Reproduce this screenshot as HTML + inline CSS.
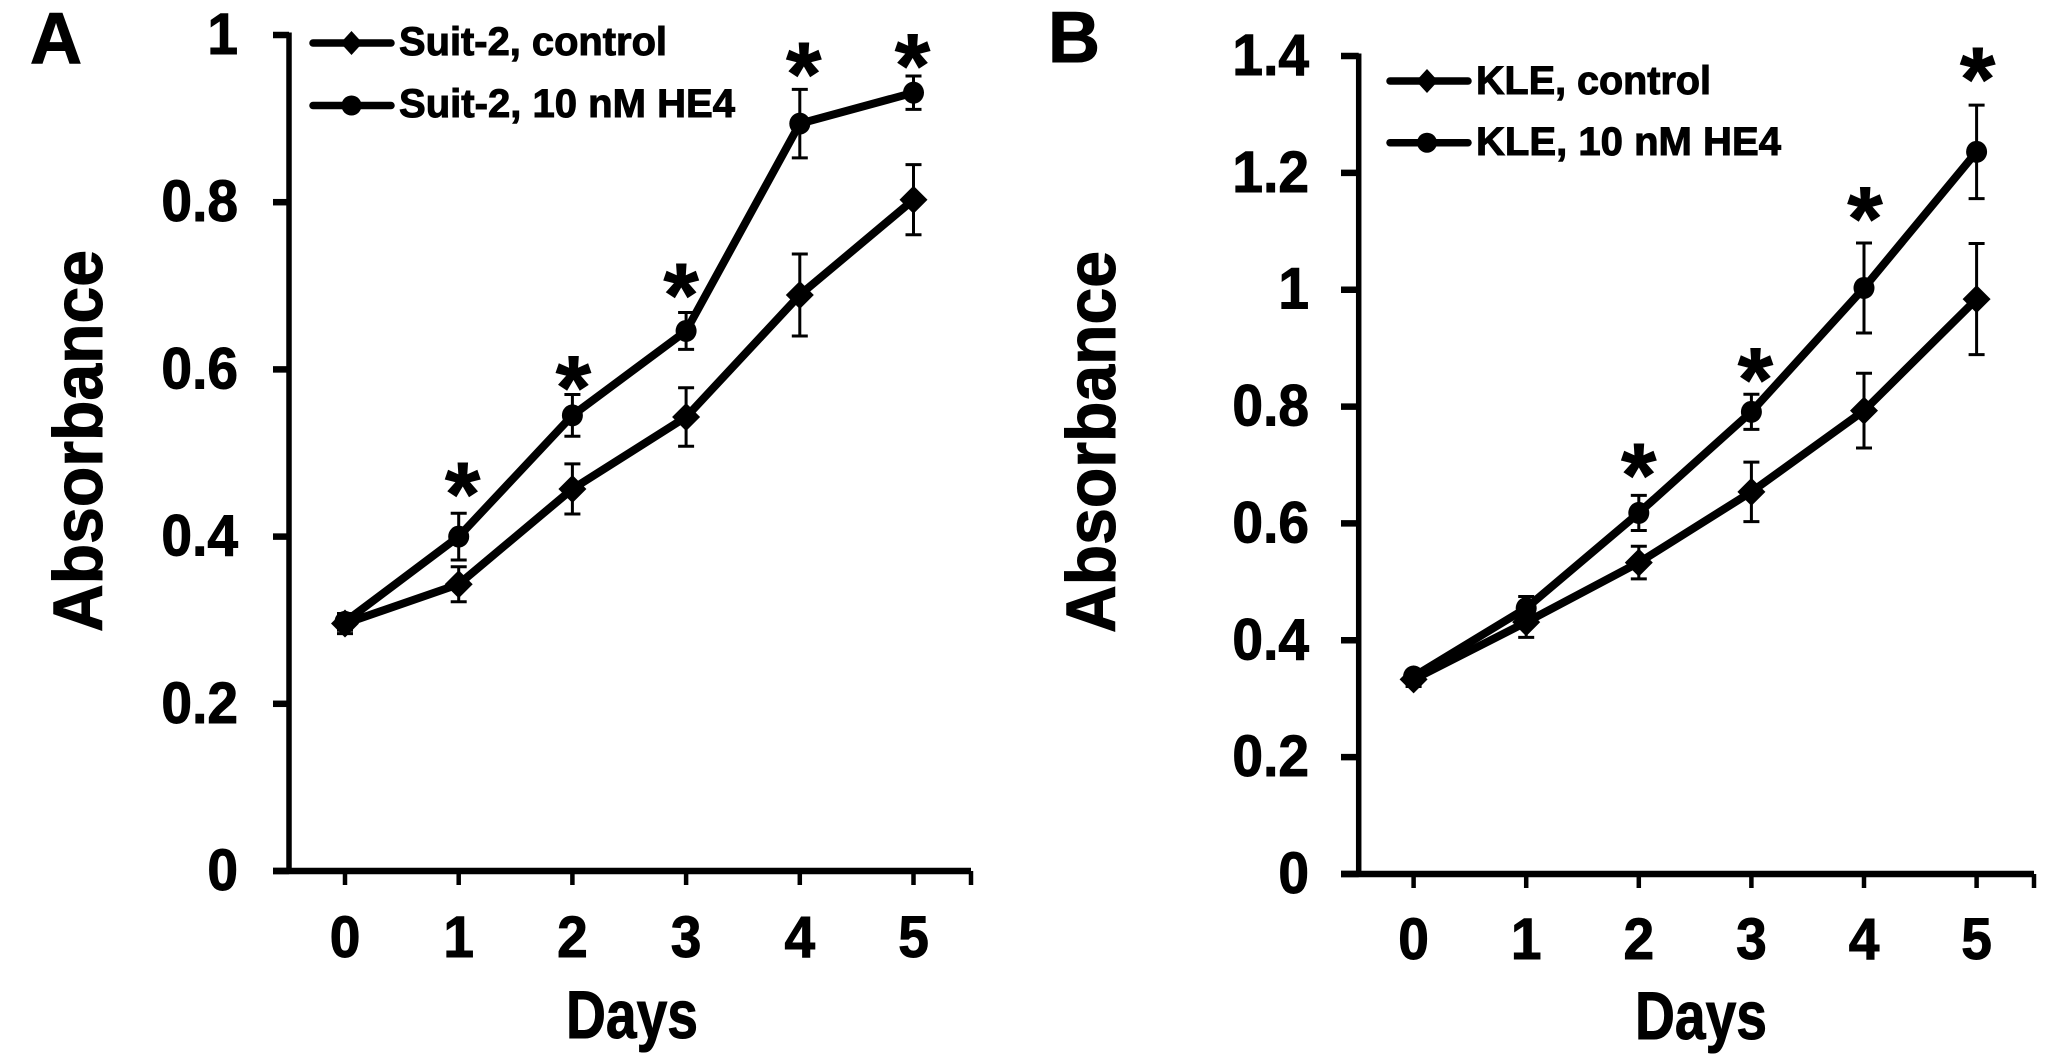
<!DOCTYPE html>
<html lang="en">
<head>
<meta charset="utf-8">
<title>Absorbance over days: Suit-2 and KLE</title>
<style>
html,body{margin:0;padding:0;background:#fff;width:2067px;height:1063px;overflow:hidden}
svg{display:block;font-family:"Liberation Sans",Arial,sans-serif;font-weight:700;fill:#000}
text{fill:#000;stroke:#000;stroke-width:1}
</style>
</head>
<body>
<svg id="figure" xmlns="http://www.w3.org/2000/svg" width="2067" height="1063" viewBox="0 0 2067 1063">
  <rect x="0" y="0" width="2067" height="1063" fill="#fff"/>

  <g id="panel-a">
    <text x="30" y="63" font-size="72">A</text>
    <text transform="translate(102,632) rotate(-90)" font-size="70" textLength="382" lengthAdjust="spacingAndGlyphs">Absorbance</text>
    <text x="566" y="1038" font-size="68" textLength="132" lengthAdjust="spacingAndGlyphs">Days</text>
    <text x="399" y="55" font-size="40" textLength="268" lengthAdjust="spacingAndGlyphs">Suit-2, control</text>
    <text x="399" y="117" font-size="40" textLength="336" lengthAdjust="spacingAndGlyphs">Suit-2, 10 nM HE4</text>
  </g>

  <g id="panel-b">
    <text x="1048" y="62" font-size="72">B</text>
    <text transform="translate(1115,633) rotate(-90)" font-size="70" textLength="382" lengthAdjust="spacingAndGlyphs">Absorbance</text>
    <text x="1635" y="1039" font-size="68" textLength="132" lengthAdjust="spacingAndGlyphs">Days</text>
    <text x="1476" y="94" font-size="40" textLength="235" lengthAdjust="spacingAndGlyphs">KLE, control</text>
    <text x="1476" y="155" font-size="40" textLength="305" lengthAdjust="spacingAndGlyphs">KLE, 10 nM HE4</text>
  </g>
</svg>

<script>
// Shared category labels
const dayLabels = ['0', '1', '2', '3', '4', '5'];

// Panel A data
const suitControl = [0.296, 0.343, 0.457, 0.543, 0.689, 0.803];
const suitControlErr = [0.012, 0.021, 0.030, 0.035, 0.049, 0.042];
const suitHe4 = [0.298, 0.400, 0.545, 0.646, 0.894, 0.931];
const suitHe4Err = [0.010, 0.028, 0.025, 0.022, 0.041, 0.020];
const suitTickValues = [0, 0.2, 0.4, 0.6, 0.8, 1];
const suitTickLabels = ['0', '0.2', '0.4', '0.6', '0.8', '1'];
const suitStarDays = [1, 2, 3, 4, 5];
const suitStarLevels = [0.468, 0.595, 0.706, 0.970, 0.980];

// Panel B data
const kleControl = [0.333, 0.431, 0.533, 0.654, 0.793, 0.984];
const kleControlErr = [0.012, 0.026, 0.028, 0.051, 0.064, 0.095];
const kleHe4 = [0.338, 0.455, 0.618, 0.791, 1.003, 1.236];
const kleHe4Err = [0.010, 0.020, 0.030, 0.030, 0.077, 0.080];
const kleTickValues = [0, 0.2, 0.4, 0.6, 0.8, 1, 1.2, 1.4];
const kleTickLabels = ['0', '0.2', '0.4', '0.6', '0.8', '1', '1.2', '1.4'];
const kleStarDays = [2, 3, 4, 5];
const kleStarLevels = [0.707, 0.870, 1.146, 1.385];

const NS = 'http://www.w3.org/2000/svg';

function make(parent, tag, attrs, txt) {
  const el = document.createElementNS(NS, tag);
  for (const k in attrs) el.setAttribute(k, attrs[k]);
  if (txt !== undefined) el.textContent = txt;
  parent.appendChild(el);
  return el;
}

function drawMarker(parent, kind, cx, cy) {
  if (kind === 'diamond') {
    return make(parent, 'polygon', {
      points: (cx - 14) + ',' + cy + ' ' + cx + ',' + (cy - 14) + ' ' + (cx + 14) + ',' + cy + ' ' + cx + ',' + (cy + 14),
      fill: '#000'
    });
  }
  return make(parent, 'ellipse', { cx: cx, cy: cy, rx: 10.5, ry: 11, fill: '#000' });
}

function drawPanel(cfg) {
  const root = document.getElementById(cfg.id);
  const xPos = function (i) { return cfg.x0 + i * cfg.xStep; };
  const yPos = function (v) { return cfg.yZero - (v / cfg.yMax) * (cfg.yZero - cfg.yTop); };
  const S = cfg.suffix;

  // Axes
  const yAxis = make(root, 'line', { x1: cfg.axisX, x2: cfg.axisX, y1: yPos(cfg.yMax) - 2.5, y2: cfg.yZero, stroke: '#000', 'stroke-width': 5.5 });
  
  
  const xAxis = make(root, 'line', { x1: cfg.tickLeft, x2: cfg.axisEnd, y1: cfg.yZero, y2: cfg.yZero, stroke: '#000', 'stroke-width': 6.5 });
  
  

  // Y ticks and labels
  cfg.tickValues.forEach(function (v, i) {
    const t = make(root, 'line', { x1: cfg.tickLeft, x2: cfg.axisX, y1: yPos(v), y2: yPos(v), stroke: '#000', 'stroke-width': 6.5 });
    
    
    const l = make(root, 'text', {
      transform: 'translate(' + cfg.yLabelX + ',' + (yPos(v) + 19) + ') scale(0.95,1)',
      'text-anchor': 'end',
      'font-size': 58
    }, cfg.tickLabels[i]);
    
    
  });

  // X ticks and labels
  dayLabels.forEach(function (d, i) {
    const t = make(root, 'line', { x1: xPos(i), x2: xPos(i), y1: cfg.yZero, y2: cfg.yZero + 14, stroke: '#000', 'stroke-width': 4.5 });
    
    
    const l = make(root, 'text', {
      transform: 'translate(' + xPos(i) + ',' + cfg.xLabelY + ') scale(0.95,1)',
      'text-anchor': 'middle',
      'font-size': 58
    }, d);
    
    
  });
  const endTick = make(root, 'line', { x1: cfg.axisEnd, x2: cfg.axisEnd, y1: cfg.yZero, y2: cfg.yZero + 14, stroke: '#000', 'stroke-width': 4.5 });
  
  

  // Series
  cfg.series.forEach(function (s) {
    const g = make(root, 'g', {});
    
    

    s.values.forEach(function (v, i) {
      const cx = xPos(i), top = yPos(v + s.err[i]), bot = yPos(v - s.err[i]);
      const bar = make(g, 'path', {
        d: 'M' + (cx - 8) + ' ' + top + 'H' + (cx + 8) + 'M' + cx + ' ' + top + 'V' + bot + 'M' + (cx - 8) + ' ' + bot + 'H' + (cx + 8),
        fill: 'none', stroke: '#000', 'stroke-width': 3
      });
      
      
    });

    const pts = s.values.map(function (v, i) { return xPos(i) + ',' + yPos(v); }).join(' ');
    const line = make(g, 'polyline', { points: pts, fill: 'none', stroke: '#000', 'stroke-width': 8, 'stroke-linejoin': 'round' });
    
    

    s.values.forEach(function (v, i) {
      const m = drawMarker(g, s.marker, xPos(i), yPos(v));
      
      
    });
  });

  // Significance asterisks (ink centred on the level)
  cfg.starDays.forEach(function (d, i) {
    const st = make(root, 'text', {
      x: xPos(d) + cfg.starDx[i],
      y: yPos(cfg.starLevels[i]) + 45,
      'text-anchor': 'middle',
      'font-size': 90
    }, '*');
    
    
  });

  // Legend swatches
  cfg.legend.forEach(function (e) {
    const g = make(root, 'g', {});
    
    
    make(g, 'line', { x1: cfg.legX1, x2: cfg.legX2, y1: e.y, y2: e.y, stroke: '#000', 'stroke-width': 7.5, 'stroke-linecap': 'round' });
    if (e.marker === 'diamond') {
      make(g, 'polygon', {
        points: (cfg.legMid - 11) + ',' + e.y + ' ' + cfg.legMid + ',' + (e.y - 12) + ' ' + (cfg.legMid + 11) + ',' + e.y + ' ' + cfg.legMid + ',' + (e.y + 12),
        fill: '#000'
      });
    } else {
      make(g, 'circle', { cx: cfg.legMid, cy: e.y, r: 10, fill: '#000' });
    }
  });
}

drawPanel({
  id: 'panel-a', suffix: 'a',
  x0: 345, xStep: 113.7, axisX: 289, tickLeft: 273, axisEnd: 971,
  yZero: 871, yTop: 35, yMax: 1,
  yLabelX: 238, xLabelY: 957,
  tickValues: suitTickValues, tickLabels: suitTickLabels,
  series: [
    { name: 'control', marker: 'diamond', values: suitControl, err: suitControlErr },
    { name: 'he4', marker: 'circle', values: suitHe4, err: suitHe4Err }
  ],
  starDays: suitStarDays, starLevels: suitStarLevels, starDx: [4, 1, -5, 4, -1],
  legX1: 313, legX2: 391, legMid: 351.5,
  legend: [ { name: 'control-a', marker: 'diamond', y: 43 }, { name: 'he4-a', marker: 'circle', y: 105.5 } ]
});

drawPanel({
  id: 'panel-b', suffix: 'b',
  x0: 1413.6, xStep: 112.6, axisX: 1358.7, tickLeft: 1341, axisEnd: 2034,
  yZero: 874, yTop: 56, yMax: 1.4,
  yLabelX: 1309, xLabelY: 959,
  tickValues: kleTickValues, tickLabels: kleTickLabels,
  series: [
    { name: 'control', marker: 'diamond', values: kleControl, err: kleControlErr },
    { name: 'he4', marker: 'circle', values: kleHe4, err: kleHe4Err }
  ],
  starDays: kleStarDays, starLevels: kleStarLevels, starDx: [0, 4, 1, 1],
  legX1: 1390, legX2: 1468, legMid: 1427,
  legend: [ { name: 'control-b', marker: 'diamond', y: 81 }, { name: 'he4-b', marker: 'circle', y: 142.7 } ]
});
</script>
</body>
</html>
